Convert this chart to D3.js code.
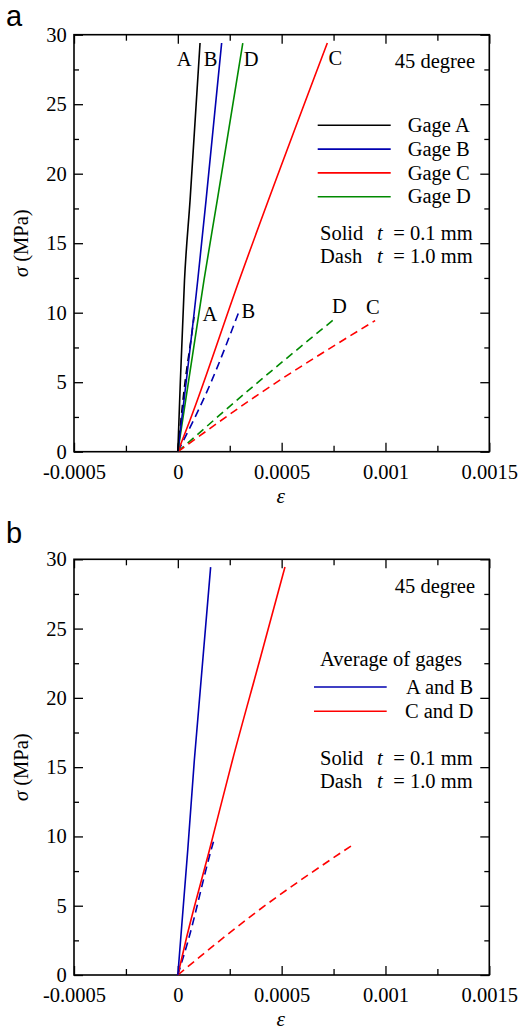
<!DOCTYPE html>
<html><head><meta charset="utf-8">
<script src="https://cdn.jsdelivr.net/npm/d3@7"></script>
<style>
html,body{margin:0;padding:0;background:#fff;}
svg{display:block;}
text{font-family:"Liberation Serif","Times New Roman",serif;fill:#000;}
text.sans{font-family:"Liberation Sans",Arial,sans-serif;}
</style></head>
<body>
<svg id="chart" width="518" height="1032"></svg>
<script>
// ---------- axis ticks ----------
const xMajorTicks = [-0.0005, 0, 0.0005, 0.001, 0.0015];
const xTickLabels = ["-0.0005", "0", "0.0005", "0.001", "0.0015"];
const xMinorTicks = [-0.00025, 0.00025, 0.00075, 0.00125];
const yMajorTicks = [0, 5, 10, 15, 20, 25, 30];
const yMinorTicks = [2.5, 7.5, 12.5, 17.5, 22.5, 27.5];

// ---------- panel a : solid (t = 0.1 mm) ----------
const aSolidA_eps = [0, 0.000012, 0.000032, 0.000059, 0.000107];
const aSolidA_sig = [0, 5.0, 12.3, 18.1, 29.4];
const aSolidB_eps = [0, 0.000096, 0.000136, 0.000211];
const aSolidB_sig = [0, 12.35, 18.1, 29.4];
const aSolidC_eps = [0, 0.000059, 0.000296, 0.00072];
const aSolidC_sig = [0, 2.28, 12.35, 29.4];
const aSolidD_eps = [0, 0.000126, 0.00019, 0.000313];
const aSolidD_sig = [0, 12.35, 18.1, 29.4];
// ---------- panel a : dash (t = 1.0 mm) ----------
const aDashA_eps = [0, 0.00003, 0.000072, 0.000078];
const aDashA_sig = [0, 4.4, 9.0, 9.7];
const aDashB_eps = [0, 0.00016, 0.000291];
const aDashB_sig = [0, 5.0, 9.95];
const aDashC_eps = [0, 0.000396, 0.00095];
const aDashC_sig = [0, 4.2, 9.43];
const aDashD_eps = [0, 0.00038, 0.000762];
const aDashD_sig = [0, 4.92, 9.64];

// ---------- panel b : averages ----------
const bSolidAB_eps = [0, 0.0000477, 0.0000795, 0.000158];
const bSolidAB_sig = [0, 9.0, 15.5, 29.44];
const bSolidCD_eps = [0, 0.000043, 0.000152, 0.000263, 0.000396, 0.000516];
const bSolidCD_sig = [0, 2.76, 9.0, 15.5, 22.8, 29.44];
const bDashAB_eps = [0, 0.00005, 0.00016, 0.000175];
const bDashAB_sig = [0, 2.5, 9.0, 9.8];
const bDashCD_eps = [0, 0.00037, 0.00084];
const bDashCD_sig = [0, 4.45, 9.37];

// ---------- labels ----------
const aLegendNames = ["Gage A", "Gage B", "Gage C", "Gage D"];
const bLegendNames = ["A and B", "C and D"];
const curveLabelText = ["A", "B", "D", "C", "A", "B", "D", "C"];
const curveLabelEps = [0.00003, 0.000158, 0.000353, 0.000758, 0.000155, 0.00034, 0.000778, 0.000939];
const curveLabelSig = [28.2, 28.2, 28.2, 28.3, 9.88, 10.12, 10.43, 10.39];

const colBlack = "#000000", colBlue = "#0000b0", colRed = "#ff0000", colGreen = "#008a00";
const FS = 20.5;

const svg = d3.select("#chart");
const L = 74, R = 489.3;

function zip(e, s) { return e.map((v, i) => [v, s[i]]); }

function panel(top, bottom, letter, letterY) {
  const x = d3.scaleLinear().domain([-0.0005, 0.0015]).range([L, R]);
  const y = d3.scaleLinear().domain([0, 30]).range([bottom, top]);
  const g = svg.append("g");

  const mk = (axis, t) => g.append("g").attr("transform", t).call(axis)
      .call(a => a.select(".domain").remove())
      .call(a => a.selectAll("line").attr("stroke", "#000").attr("stroke-width", 1.3));
  mk(d3.axisBottom(x).tickValues(xMajorTicks).tickSizeInner(-9).tickSizeOuter(0).tickPadding(12.5)
      .tickFormat((d, i) => xTickLabels[i]), `translate(0,${bottom})`)
    .selectAll("text").attr("font-size", FS);
  mk(d3.axisBottom(x).tickValues(xMinorTicks).tickSizeInner(-6).tickSizeOuter(0).tickFormat(""), `translate(0,${bottom})`);
  mk(d3.axisTop(x).tickValues(xMajorTicks).tickSizeInner(-9).tickSizeOuter(0).tickFormat(""), `translate(0,${top})`);
  mk(d3.axisTop(x).tickValues(xMinorTicks).tickSizeInner(-6).tickSizeOuter(0).tickFormat(""), `translate(0,${top})`);
  mk(d3.axisLeft(y).tickValues(yMajorTicks).tickSizeInner(-9).tickSizeOuter(0).tickPadding(7.3), `translate(${L},0)`)
    .selectAll("text").attr("font-size", FS);
  mk(d3.axisLeft(y).tickValues(yMinorTicks).tickSizeInner(-5).tickSizeOuter(0).tickFormat(""), `translate(${L},0)`);
  mk(d3.axisRight(y).tickValues(yMajorTicks).tickSizeInner(-9).tickSizeOuter(0).tickFormat(""), `translate(${R},0)`);
  mk(d3.axisRight(y).tickValues(yMinorTicks).tickSizeInner(-5).tickSizeOuter(0).tickFormat(""), `translate(${R},0)`);

  g.append("rect").attr("x", L).attr("y", top).attr("width", R - L).attr("height", bottom - top)
    .attr("fill", "none").attr("stroke", "#000").attr("stroke-width", 1.6);

  const yt = g.append("text").attr("transform", `translate(28,${(top + bottom) / 2}) rotate(-90)`)
    .attr("text-anchor", "middle").attr("font-size", FS);
  yt.append("tspan").attr("font-style", "italic").text("σ");
  yt.append("tspan").text(" (MPa)");
  g.append("text").attr("x", (L + R) / 2 - 1).attr("y", bottom + 51).attr("text-anchor", "middle")
    .attr("font-size", FS + 1).attr("font-style", "italic").text("ε");

  g.append("text").attr("class", "sans").attr("x", 6).attr("y", letterY).attr("font-size", 29).text(letter);
  return { g, x, y };
}

function drawLine(p, e, s, color, dashed) {
  const line = d3.line().x(d => p.x(d[0])).y(d => p.y(d[1])).curve(d3.curveMonotoneX);
  p.g.append("path").datum(zip(e, s)).attr("d", line).attr("fill", "none")
    .attr("stroke", color).attr("stroke-width", 1.6)
    .attr("stroke-dasharray", dashed ? "8,5" : null);
}

function thickness(p, yc1, yc2) {
  [["Solid", "= 0.1 mm", yc1], ["Dash", "= 1.0 mm", yc2]].forEach(r => {
    p.g.append("text").attr("x", 320).attr("y", r[2]).attr("dy", "0.33em").attr("font-size", FS).text(r[0]);
    p.g.append("text").attr("x", 377).attr("y", r[2]).attr("dy", "0.33em").attr("font-size", FS)
      .attr("font-style", "italic").text("t");
    p.g.append("text").attr("x", 393.3).attr("y", r[2]).attr("dy", "0.33em").attr("font-size", FS).text(r[1]);
  });
}

// ===== Panel a =====
const pa = panel(34.7, 451.7, "a", 26);
drawLine(pa, aDashA_eps, aDashA_sig, colBlack, true);
drawLine(pa, aDashB_eps, aDashB_sig, colBlue, true);
drawLine(pa, aDashD_eps, aDashD_sig, colGreen, true);
drawLine(pa, aDashC_eps, aDashC_sig, colRed, true);
drawLine(pa, aSolidC_eps, aSolidC_sig, colRed, false);
drawLine(pa, aSolidD_eps, aSolidD_sig, colGreen, false);
drawLine(pa, aSolidB_eps, aSolidB_sig, colBlue, false);
drawLine(pa, aSolidA_eps, aSolidA_sig, colBlack, false);

curveLabelText.forEach((t, i) => {
  pa.g.append("text").attr("x", pa.x(curveLabelEps[i])).attr("y", pa.y(curveLabelSig[i]))
    .attr("dy", "0.33em").attr("text-anchor", "middle").attr("font-size", FS).text(t);
});
pa.g.append("text").attr("x", 475).attr("y", 61.7).attr("dy", "0.33em").attr("text-anchor", "end")
  .attr("font-size", FS).text("45 degree");
const aCols = [colBlack, colBlue, colRed, colGreen];
aLegendNames.forEach((n, i) => {
  const yy = 125.3 + i * 23.8;
  pa.g.append("line").attr("x1", 317.7).attr("x2", 390.7).attr("y1", yy).attr("y2", yy)
    .attr("stroke", aCols[i]).attr("stroke-width", 1.6);
  pa.g.append("text").attr("x", 407.7).attr("y", yy).attr("dy", "0.33em").attr("font-size", FS).text(n);
});
thickness(pa, 233, 256.7);

// ===== Panel b =====
const pb = panel(559.3, 975, "b", 543);
drawLine(pb, bDashCD_eps, bDashCD_sig, colRed, true);
drawLine(pb, bDashAB_eps, bDashAB_sig, colBlue, true);
drawLine(pb, bSolidCD_eps, bSolidCD_sig, colRed, false);
drawLine(pb, bSolidAB_eps, bSolidAB_sig, colBlue, false);

pb.g.append("text").attr("x", 475).attr("y", 586.7).attr("dy", "0.33em").attr("text-anchor", "end")
  .attr("font-size", FS).text("45 degree");
pb.g.append("text").attr("x", 320).attr("y", 659).attr("dy", "0.33em").attr("font-size", FS).text("Average of gages");
const bCols = [colBlue, colRed];
bLegendNames.forEach((n, i) => {
  const yy = 687 + i * 24.3;
  pb.g.append("line").attr("x1", 314).attr("x2", 386.7).attr("y1", yy).attr("y2", yy)
    .attr("stroke", bCols[i]).attr("stroke-width", 1.6);
  pb.g.append("text").attr("x", 473.3).attr("y", yy).attr("dy", "0.33em").attr("text-anchor", "end")
    .attr("font-size", FS).text(n);
});
thickness(pb, 758, 781.5);
</script>
</body></html>
